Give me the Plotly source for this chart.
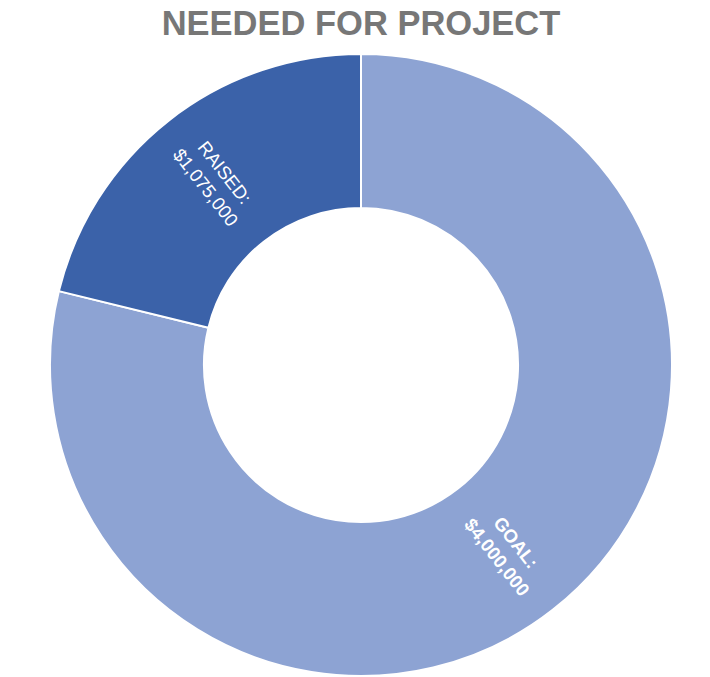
import math
import plotly.graph_objects as go

labels = ["GOAL", "RAISED"]
values = [4000000, 1075000]
texts = ["<b>GOAL:<br>$4,000,000</b>", "RAISED:<br>$1,075,000"]
colors = ["#8DA3D3", "#3B62A9"]

HOLE = 0.505
fig = go.Figure(go.Pie(
    labels=labels,
    values=values,
    textinfo="none",
    sort=False,
    direction="clockwise",
    rotation=0,
    hole=HOLE,
    marker=dict(colors=colors, line=dict(color="white", width=2)),
    showlegend=False,
    hoverinfo="label+value",
))

# Plot area (domain) size in pixels, used to place radial labels at mid-ring
W, H = 710, 677
ML, MR, MT, MB = 50, 38, 53, 0
dom_w = W - ML - MR
dom_h = H - MT - MB
R = min(dom_w, dom_h) / 2
r_text = R * (1 + HOLE) / 2 + 1

total = sum(values)
cum = 0.0
annotations = []
for lab, v, t in zip(labels, values, texts):
    mid = (cum + v / 2) / total * 360.0  # clockwise from 12 o'clock
    cum += v
    th = math.radians(mid)
    dx = r_text * math.sin(th)
    dy = r_text * math.cos(th)
    # radial orientation, reading downward
    ang = math.degrees(math.atan2(-math.cos(th), math.sin(th)))
    if ang > 90:
        ang -= 180
    if ang < -90:
        ang += 180
    annotations.append(dict(
        x=0.5 + dx / dom_w, y=0.5 + dy / dom_h,
        xref="paper", yref="paper",
        text=t, showarrow=False, textangle=ang,
        xanchor="center", yanchor="middle",
        font=dict(family="Liberation Sans, Arial, sans-serif", size=18.5, color="white"),
    ))

fig.update_layout(
    width=W, height=H,
    margin=dict(l=ML, r=MR, t=MT, b=MB),
    paper_bgcolor="white",
    plot_bgcolor="white",
    annotations=annotations,
    title=dict(
        text="<b>NEEDED FOR PROJECT</b>",
        x=0.5, xref="paper", xanchor="center",
        y=1 - 23 / H, yref="container", yanchor="middle",
        font=dict(family="Liberation Sans, Arial, sans-serif", size=34.5, color="#777777"),
    ),
)

fig.write_html("out.html", config={"displayModeBar": False},
               post_script="document.body.style.margin='0';")
